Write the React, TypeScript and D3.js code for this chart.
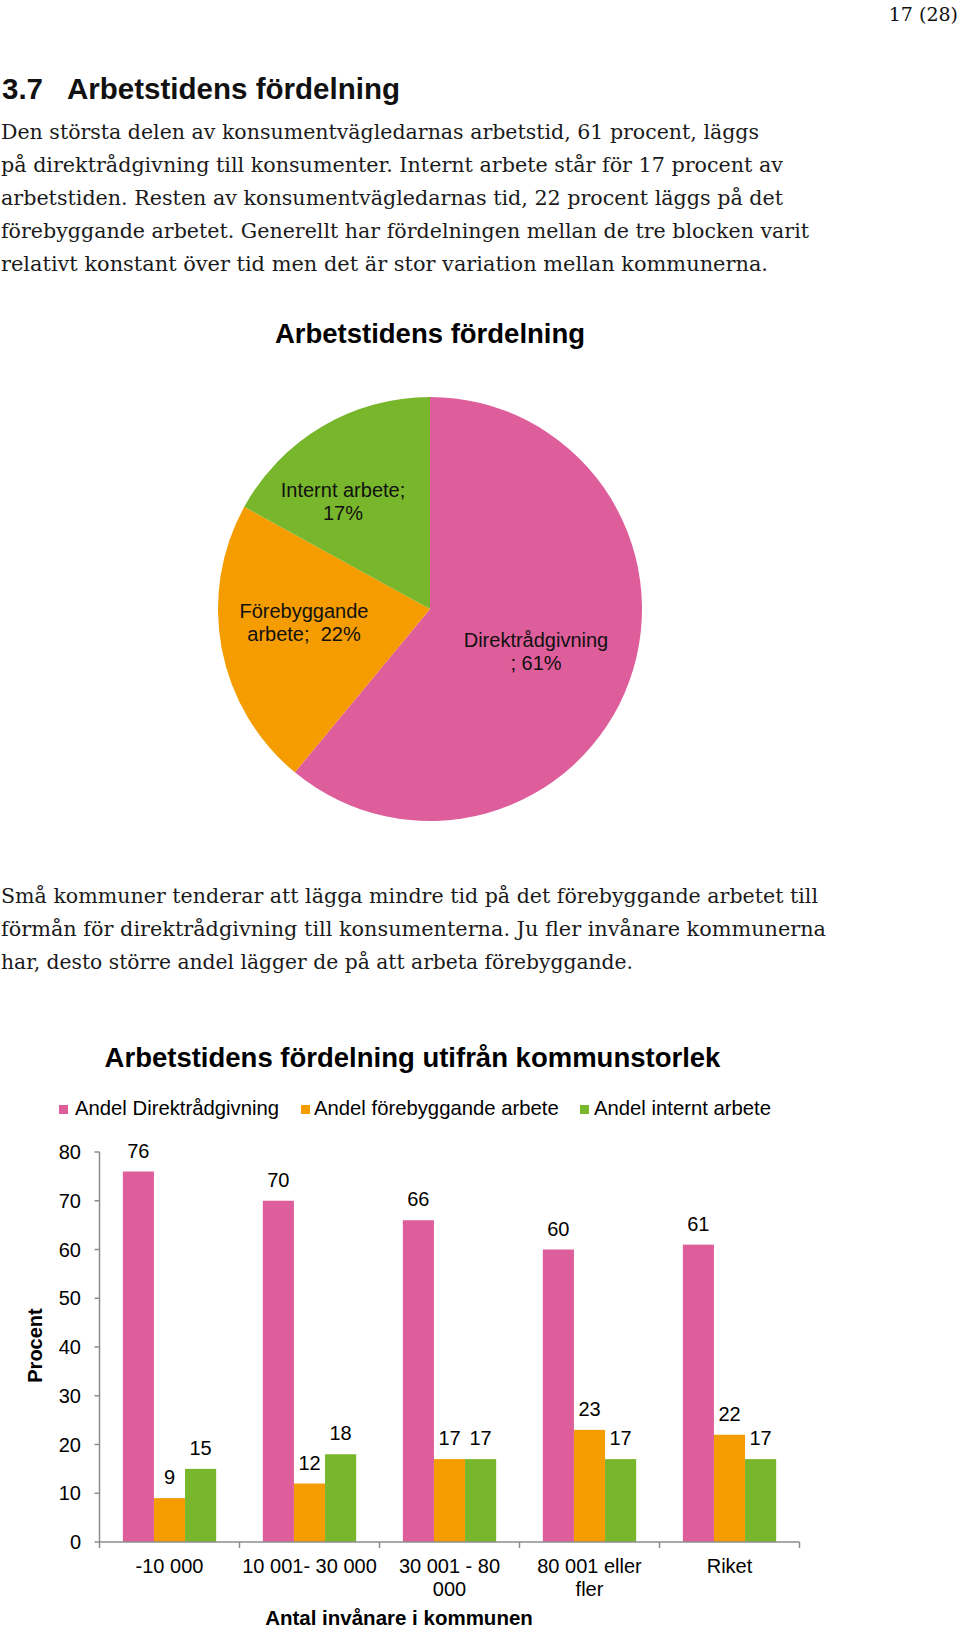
import React from "react";
import * as d3 from "d3";

// ---------- Data ----------
const pieLabels = ["Direktrådgivning", "Förebyggande arbete", "Internt arbete"];
const pieValues = [61, 22, 17];

const categories = ["-10 000", "10 001- 30 000", "30 001 - 80 000", "80 001 eller fler", "Riket"];
const categoryLines = [["-10 000"], ["10 001- 30 000"], ["30 001 - 80", "000"], ["80 001 eller", "fler"], ["Riket"]];
const seriesNames = ["Andel Direktrådgivning", "Andel förebyggande arbete", "Andel internt arbete"];
const direkt = [76, 70, 66, 60, 61];
const forebyggande = [9, 12, 17, 23, 22];
const internt = [15, 18, 17, 17, 17];
const yTicks = [0, 10, 20, 30, 40, 50, 60, 70, 80];

const para1 = [
  "Den största delen av konsumentvägledarnas arbetstid, 61 procent, läggs",
  "på direktrådgivning till konsumenter. Internt arbete står för 17 procent av",
  "arbetstiden. Resten av konsumentvägledarnas tid, 22 procent läggs på det",
  "förebyggande arbetet. Generellt har fördelningen mellan de tre blocken varit",
  "relativt konstant över tid men det är stor variation mellan kommunerna.",
];
const para1Widths = [759, 783, 783, 809, 768];
const para2 = [
  "Små kommuner tenderar att lägga mindre tid på det förebyggande arbetet till",
  "förmån för direktrådgivning till konsumenterna. Ju fler invånare kommunerna",
  "har, desto större andel lägger de på att arbeta förebyggande.",
];
const para2Widths = [818, 826, 633];

const COLORS = ["#DE5E9B", "#F49C00", "#78B62B"];
const SANS = "'Liberation Sans', Arial, Helvetica, sans-serif";
const SERIF = "'DejaVu Serif', Georgia, serif";

export default function App() {
  // ---- Pie ----
  const cx = 430, cy = 609, r = 212;
  const pie = d3.pie<number>().sort(null).startAngle(0).endAngle(2 * Math.PI);
  const arcs = pie(pieValues);
  const arcGen = d3.arc<d3.PieArcDatum<number>>().innerRadius(0).outerRadius(r);

  const pieLabelDefs = [
    { lines: ["Direktrådgivning", "; " + pieValues[0] + "%"], x: 536, y: 647 },
    { lines: ["Förebyggande", "arbete;\u00A0 " + pieValues[1] + "%"], x: 304, y: 618 },
    { lines: ["Internt arbete;", pieValues[2] + "%"], x: 343, y: 497 },
  ];

  // ---- Bars ----
  const x0 = d3.scaleBand<string>().domain(categories).range([99.5, 799.5]).padding(0);
  const bw = x0.bandwidth();
  const gw = bw / 1.5;
  const x1 = d3.scaleBand<number>().domain([0, 1, 2]).range([0, gw]).padding(0);
  const y = d3.scaleLinear().domain([0, 80]).range([1542, 1152]);
  const series = [direkt, forebyggande, internt];

  const legendItems = [
    { sq: 59, tx: 75 },
    { sq: 301, tx: 314 },
    { sq: 580, tx: 594 },
  ];

  return (
    <svg
      width={960}
      height={1629}
      style={{ position: "absolute", left: 0, top: 0, background: "#fff" }}
    >
      <rect x={0} y={0} width={960} height={1629} fill="#fff" />
      {/* Page number */}
      <text x={958} y={21} textAnchor="end" fontFamily={SERIF} fontSize={19} fill="#111">
        17 (28)
      </text>

      {/* Heading */}
      <text x={2} y={99} fontFamily={SANS} fontWeight="bold" fontSize={29.5} fill="#111">3.7</text>
      <text x={67} y={99} fontFamily={SANS} fontWeight="bold" fontSize={29.5} fill="#111" textLength={333} lengthAdjust="spacingAndGlyphs">
        Arbetstidens fördelning
      </text>

      {/* Paragraph 1 */}
      {para1.map((t, i) => (
        <text key={"p1" + i} x={1} y={138.5 + i * 33} fontFamily={SERIF} fontSize={20} fill="#1a1a1a" textLength={para1Widths[i] - 1} lengthAdjust="spacingAndGlyphs">
          {t}
        </text>
      ))}

      {/* Pie title */}
      <text x={430} y={343} textAnchor="middle" fontFamily={SANS} fontWeight="bold" fontSize={27.5} fill="#000">
        Arbetstidens fördelning
      </text>

      {/* Pie */}
      <g transform={`translate(${cx},${cy})`}>
        {arcs.map((a, i) => (
          <path key={"arc" + i} d={arcGen(a) || ""} fill={COLORS[i]} />
        ))}
      </g>
      {pieLabelDefs.map((l, i) => (
        <text key={"pl" + i} textAnchor="middle" fontFamily={SANS} fontSize={20} fill="#111">
          {l.lines.map((ln, j) => (
            <tspan key={j} x={l.x} y={l.y + j * 23}>{ln}</tspan>
          ))}
        </text>
      ))}

      {/* Paragraph 2 */}
      {para2.map((t, i) => (
        <text key={"p2" + i} x={1} y={903 + i * 33} fontFamily={SERIF} fontSize={20} fill="#1a1a1a" textLength={para2Widths[i] - 1} lengthAdjust="spacingAndGlyphs">
          {t}
        </text>
      ))}

      {/* Bar chart title */}
      <text x={412.5} y={1067} textAnchor="middle" fontFamily={SANS} fontWeight="bold" fontSize={27.5} fill="#000">
        Arbetstidens fördelning utifrån kommunstorlek
      </text>

      {/* Legend */}
      {seriesNames.map((n, i) => (
        <g key={"lg" + i}>
          <rect x={legendItems[i].sq} y={1105} width={9} height={9} fill={COLORS[i]} />
          <text x={legendItems[i].tx} y={1115} fontFamily={SANS} fontSize={20.3} fill="#000">{n}</text>
        </g>
      ))}

      {/* Bars */}
      {categories.map((c, ci) => {
        const gx = (x0(c) as number) + (bw - gw) / 2;
        return (
          <g key={"cat" + ci}>
            {series.map((s, si) => {
              const bx = gx + (x1(si) as number);
              const w = x1.bandwidth();
              const top = y(s[ci]);
              return (
                <g key={"b" + si}>
                  <rect x={bx} y={top} width={w} height={y(0) - top} fill={COLORS[si]} />
                  <text x={bx + w / 2} y={top - 14} textAnchor="middle" fontFamily={SANS} fontSize={20} fill="#000">
                    {s[ci]}
                  </text>
                </g>
              );
            })}
          </g>
        );
      })}

      {/* Y axis */}
      <line x1={99.5} x2={99.5} y1={y(80)} y2={y(0)} stroke="#8c8c8c" strokeWidth={1.5} />
      {yTicks.map((t) => (
        <g key={"yt" + t}>
          <line x1={94.5} x2={99.5} y1={y(t)} y2={y(t)} stroke="#8c8c8c" strokeWidth={1.5} />
          <text x={81} y={y(t) + 7} textAnchor="end" fontFamily={SANS} fontSize={20} fill="#000">{t}</text>
        </g>
      ))}

      {/* X axis */}
      <line x1={99.5} x2={799.5} y1={y(0)} y2={y(0)} stroke="#8c8c8c" strokeWidth={1.5} />
      {categories.map((c, ci) => (
        <line key={"xt" + ci} x1={(x0(c) as number) + bw} x2={(x0(c) as number) + bw} y1={y(0)} y2={y(0) + 6} stroke="#8c8c8c" strokeWidth={1.5} />
      ))}
      <line x1={99.5} x2={99.5} y1={y(0)} y2={y(0) + 6} stroke="#8c8c8c" strokeWidth={1.5} />
      {categories.map((c, ci) => (
        <text key={"xl" + ci} textAnchor="middle" fontFamily={SANS} fontSize={20} fill="#000">
          {categoryLines[ci].map((ln, j) => (
            <tspan key={j} x={(x0(c) as number) + bw / 2} y={1573 + j * 23}>{ln}</tspan>
          ))}
        </text>
      ))}

      {/* Axis titles */}
      <text x={399} y={1625} textAnchor="middle" fontFamily={SANS} fontWeight="bold" fontSize={20.5} fill="#000">
        Antal invånare i kommunen
      </text>
      <text transform="translate(41.5,1345.5) rotate(-90)" textAnchor="middle" fontFamily={SANS} fontWeight="bold" fontSize={20} fill="#000">
        Procent
      </text>
    </svg>
  );
}
